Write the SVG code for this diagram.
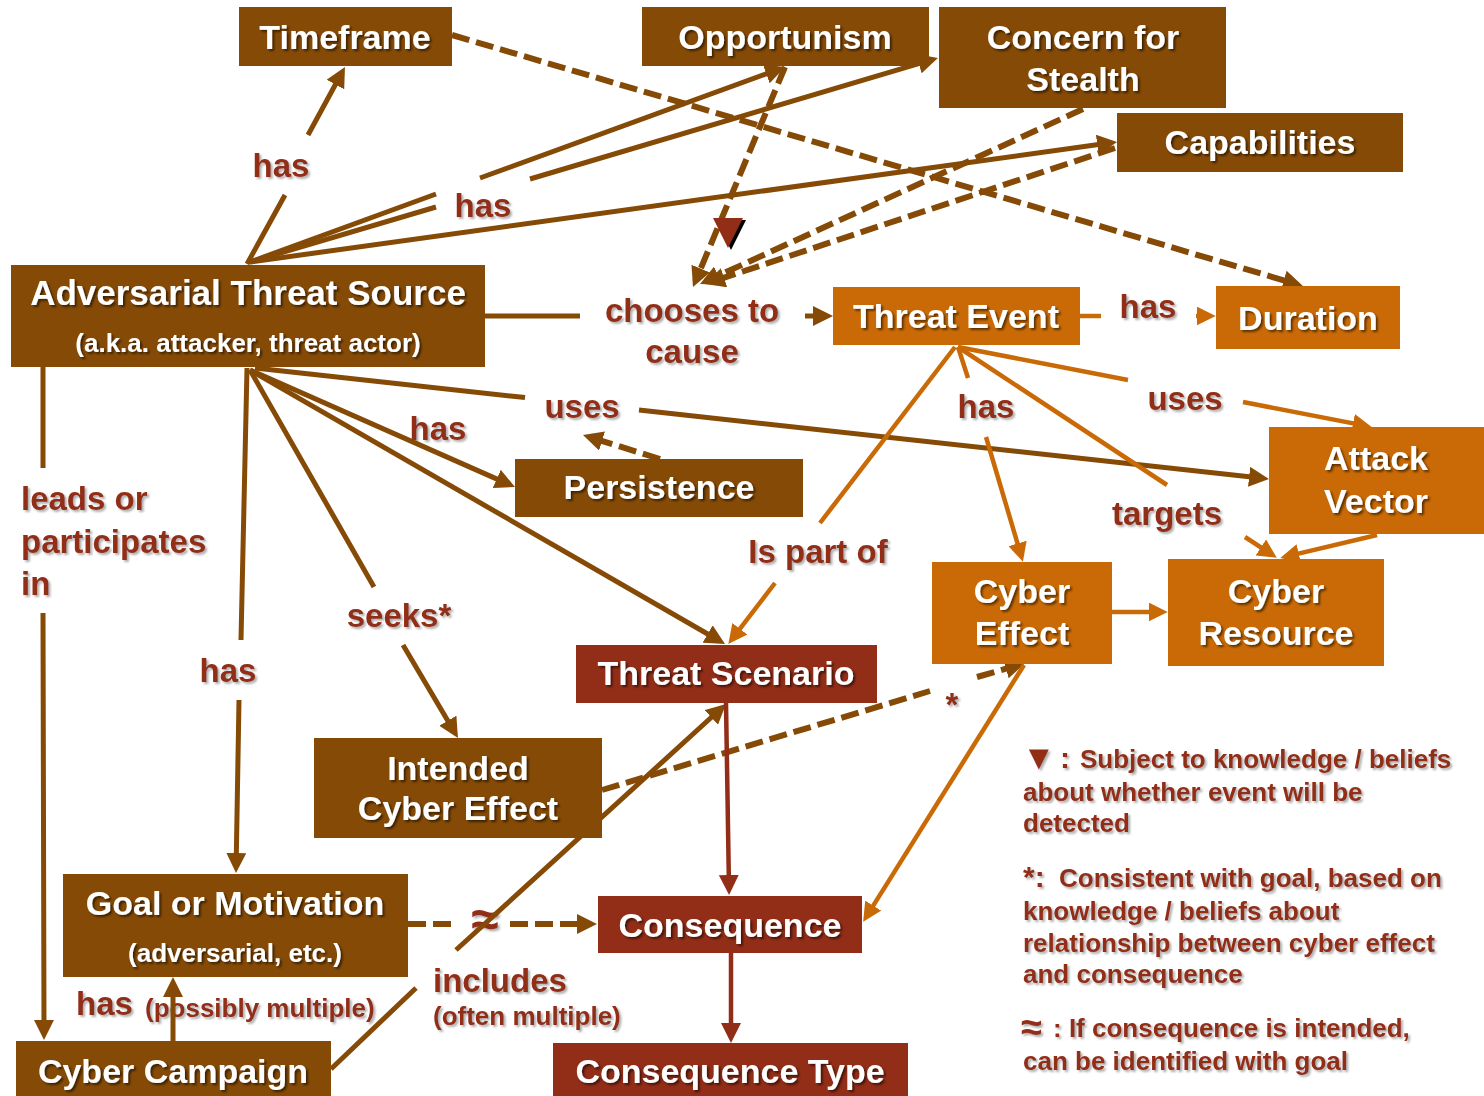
<svg xmlns="http://www.w3.org/2000/svg" width="1484" height="1096" viewBox="0 0 1484 1096">
  <defs>
    <style>
      .n-brown { fill: #854A06; }
      .n-orange { fill: #C96A06; }
      .n-red { fill: #922D17; }
      .nt { fill: #FFFFFF; font-family: "Liberation Sans", Arial, sans-serif; font-weight: bold; font-size: 34px; text-anchor: middle; }
      .nt-s { font-size: 26px; }
      .lb { fill: #922D17; font-family: "Liberation Sans", Arial, sans-serif; font-weight: bold; font-size: 33px; }
      .lb-m { text-anchor: middle; }
      .lb-s { font-size: 26px; }
      .lg { fill: #922D17; font-family: "Liberation Sans", "DejaVu Sans", Arial, sans-serif; font-weight: bold; font-size: 26px; }
      .c { fill: none; stroke-linejoin: miter; }
      .c-brown { stroke: #854A06; stroke-width: 5; }
      .c-orange { stroke: #C96A06; stroke-width: 4.5; }
      .c-red { stroke: #922D17; stroke-width: 4.5; }
      .dash { stroke-width: 6; stroke-dasharray: 18 7; }
    </style>
    <filter id="shadow-node" x="-10%" y="-30%" width="120%" height="160%">
      <feDropShadow dx="2" dy="2" stdDeviation="1" flood-color="#000000" flood-opacity="0.55"/>
    </filter>
    <filter id="shadow-label" x="-10%" y="-30%" width="120%" height="160%">
      <feDropShadow dx="2" dy="2" stdDeviation="1.2" flood-color="#777777" flood-opacity="0.6"/>
    </filter>
    <marker id="ah-brown" viewBox="0 0 20 20" refX="14" refY="10" markerWidth="20" markerHeight="20" markerUnits="userSpaceOnUse" orient="auto">
      <path d="M0,0 L20,10 L0,20 z" fill="#854A06"/>
    </marker>
    <marker id="ah-orange" viewBox="0 0 20 20" refX="14" refY="10" markerWidth="19" markerHeight="19" markerUnits="userSpaceOnUse" orient="auto">
      <path d="M0,0 L20,10 L0,20 z" fill="#C96A06"/>
    </marker>
    <marker id="ah-red" viewBox="0 0 20 20" refX="14" refY="10" markerWidth="20" markerHeight="20" markerUnits="userSpaceOnUse" orient="auto">
      <path d="M0,0 L20,10 L0,20 z" fill="#922D17"/>
    </marker>
  </defs>

  <rect x="0" y="0" width="1484" height="1096" fill="#FFFFFF"/>

  <!-- relationship labels -->
  <g id="labels" filter="url(#shadow-label)">
    <text class="lb lb-m" x="281" y="177">has</text>
    <text class="lb lb-m" x="483" y="217">has</text>
    <text class="lb lb-m" x="692" y="322">chooses to</text>
    <text class="lb lb-m" x="692" y="363">cause</text>
    <text class="lb lb-m" x="1148" y="318">has</text>
    <text class="lb lb-m" x="582" y="418">uses</text>
    <text class="lb lb-m" x="438" y="440">has</text>
    <text class="lb" x="21" y="510">leads or</text>
    <text class="lb" x="21" y="553">participates</text>
    <text class="lb" x="21" y="595">in</text>
    <text class="lb lb-m" x="399" y="627">seeks*</text>
    <text class="lb lb-m" x="228" y="682">has</text>
    <text class="lb lb-m" x="818" y="563">Is part of</text>
    <text class="lb lb-m" x="986" y="418">has</text>
    <text class="lb lb-m" x="1185" y="410">uses</text>
    <text class="lb lb-m" x="1167" y="525">targets</text>
    <text class="lb lb-m" x="952" y="716">*</text>
    <text class="lb lb-m" x="485" y="936" style="font-size:50px">≈</text>
    <text class="lb" x="76" y="1015">has <tspan class="lb-s" x="145" y="1017">(possibly multiple)</tspan></text>
    <text class="lb" x="433" y="992">includes</text>
    <text class="lb lb-s" x="433" y="1025">(often multiple)</text>
  </g>

  <!-- connectors -->
  <g id="connectors">
    <!-- Adversarial Threat Source: outgoing relations -->
    <path class="c c-brown" d="M247,264 L285,195 M308,135 L342.1,72.3" marker-end="url(#ah-brown)"/>
    <path class="c c-brown" d="M250,262 L436,194 M480,178 L779.4,69.1" marker-end="url(#ah-brown)"/>
    <path class="c c-brown" d="M250,262 L436,207 M530,179 L932.2,59.7" marker-end="url(#ah-brown)"/>
    <path class="c c-brown" d="M250,262 L1111.1,142.8" marker-end="url(#ah-brown)"/>
    <path class="c c-brown" d="M485,316 L580,316"/>
    <path class="c c-brown" d="M805,316 L827,316" marker-end="url(#ah-brown)"/>
    <path class="c c-brown" d="M255,368 L525,397.6 M639,410 L1263,478.3" marker-end="url(#ah-brown)"/>
    <path class="c c-brown" d="M250,370 L509.5,484.6" marker-end="url(#ah-brown)"/>
    <path class="c c-brown" d="M250,370 L719.8,641" marker-end="url(#ah-brown)"/>
    <path class="c c-brown" d="M250,370 L374,587 M403,645 L454.9,732.8" marker-end="url(#ah-brown)"/>
    <path class="c c-brown" d="M247,368 L241,640 M239,700 L236.1,867" marker-end="url(#ah-brown)"/>
    <path class="c c-brown" d="M43,367 L43,468 M43,613 L44,1034" marker-end="url(#ah-brown)"/>
    <!-- Cyber Campaign relations -->
    <path class="c c-brown" d="M173,1041 L173,983" marker-end="url(#ah-brown)"/>
    <path class="c c-brown" d="M331,1069 L416,988 M456,950 L721.6,708" marker-end="url(#ah-brown)"/>
    <!-- dashed influences -->
    <path class="c c-brown dash" d="M785,67 L695.3,281.5" marker-end="url(#ah-brown)"/>
    <path class="c c-brown dash" d="M1083,109 L705.5,281.5" marker-end="url(#ah-brown)"/>
    <path class="c c-brown dash" d="M1115,148 L710.7,282.1" marker-end="url(#ah-brown)"/>
    <path class="c c-brown dash" d="M452,35 L1297.2,284.3" marker-end="url(#ah-brown)"/>
    <path class="c c-brown dash" d="M660,459 L588.7,436.8" marker-end="url(#ah-brown)"/>
    <path class="c c-brown dash" d="M408,924 L458,924 M510,924 L591,924" marker-end="url(#ah-brown)"/>
    <path class="c c-brown dash" d="M602,790 L930,691 M977,677 L1019.3,664.8" marker-end="url(#ah-brown)"/>
    <!-- scenario chain -->
    <path class="c c-red" d="M726,703 L729,889" marker-end="url(#ah-red)"/>
    <path class="c c-red" d="M731,953 L731,1037" marker-end="url(#ah-red)"/>
    <!-- Threat Event relations -->
    <path class="c c-orange" d="M1080,316 L1101,316"/>
    <path class="c c-orange" d="M1196,316 L1210,316" marker-end="url(#ah-orange)"/>
    <path class="c c-orange" d="M955,347 L820,523 M775,583 L731.8,639.4" marker-end="url(#ah-orange)"/>
    <path class="c c-orange" d="M958,347 L968,378 M986,437 L1021.3,556.2" marker-end="url(#ah-orange)"/>
    <path class="c c-orange" d="M958,347 L1167,485 M1245,537 L1272,554.7" marker-end="url(#ah-orange)"/>
    <path class="c c-orange" d="M958,347 L1128,380 M1243,402 L1366.1,425.9" marker-end="url(#ah-orange)"/>
    <path class="c c-orange" d="M1377,535 L1285.8,556.6" marker-end="url(#ah-orange)"/>
    <path class="c c-orange" d="M1112,612 L1162,612" marker-end="url(#ah-orange)"/>
    <path class="c c-orange" d="M1024,665 L866.2,916.9" marker-end="url(#ah-orange)"/>
    <!-- detection-belief marker on the opportunism link -->
    <polygon points="716,220 746,220 731,250" fill="#000000"/>
    <polygon points="713,218 743,218 728,248" fill="#922D17"/>
  </g>

  <!-- nodes -->
  <g id="node-timeframe">
    <rect class="n-brown" x="239" y="7" width="213" height="59"/>
    <text class="nt" x="345" y="49" filter="url(#shadow-node)">Timeframe</text>
  </g>
  <g id="node-opportunism">
    <rect class="n-brown" x="642" y="7" width="287" height="59"/>
    <text class="nt" x="785" y="49" filter="url(#shadow-node)">Opportunism</text>
  </g>
  <g id="node-stealth">
    <rect class="n-brown" x="939" y="7" width="287" height="101"/>
    <text class="nt" x="1083" y="49" filter="url(#shadow-node)">Concern for</text>
    <text class="nt" x="1083" y="91" filter="url(#shadow-node)">Stealth</text>
  </g>
  <g id="node-capabilities">
    <rect class="n-brown" x="1117" y="113" width="286" height="59"/>
    <text class="nt" x="1260" y="154" filter="url(#shadow-node)">Capabilities</text>
  </g>
  <g id="node-threat-source">
    <rect class="n-brown" x="11" y="265" width="474" height="102"/>
    <text class="nt" x="248" y="305" style="font-size:35px" filter="url(#shadow-node)">Adversarial  Threat Source</text>
    <text class="nt nt-s" x="248" y="352" filter="url(#shadow-node)">(a.k.a. attacker, threat actor)</text>
  </g>
  <g id="node-threat-event">
    <rect class="n-orange" x="833" y="287" width="247" height="58"/>
    <text class="nt" x="956" y="328" filter="url(#shadow-node)">Threat Event</text>
  </g>
  <g id="node-duration">
    <rect class="n-orange" x="1216" y="286" width="184" height="63"/>
    <text class="nt" x="1308" y="330" filter="url(#shadow-node)">Duration</text>
  </g>
  <g id="node-persistence">
    <rect class="n-brown" x="515" y="459" width="288" height="58"/>
    <text class="nt" x="659" y="499" filter="url(#shadow-node)">Persistence</text>
  </g>
  <g id="node-attack-vector">
    <rect class="n-orange" x="1269" y="427" width="215" height="107"/>
    <text class="nt" x="1376" y="470" filter="url(#shadow-node)">Attack</text>
    <text class="nt" x="1376" y="513" filter="url(#shadow-node)">Vector</text>
  </g>
  <g id="node-cyber-effect">
    <rect class="n-orange" x="932" y="562" width="180" height="102"/>
    <text class="nt" x="1022" y="603" filter="url(#shadow-node)">Cyber</text>
    <text class="nt" x="1022" y="645" filter="url(#shadow-node)">Effect</text>
  </g>
  <g id="node-cyber-resource">
    <rect class="n-orange" x="1168" y="559" width="216" height="107"/>
    <text class="nt" x="1276" y="603" filter="url(#shadow-node)">Cyber</text>
    <text class="nt" x="1276" y="645" filter="url(#shadow-node)">Resource</text>
  </g>
  <g id="node-threat-scenario">
    <rect class="n-red" x="576" y="645" width="301" height="58"/>
    <text class="nt" x="726" y="685" filter="url(#shadow-node)">Threat Scenario</text>
  </g>
  <g id="node-intended-effect">
    <rect class="n-brown" x="314" y="738" width="288" height="100"/>
    <text class="nt" x="458" y="780" filter="url(#shadow-node)">Intended</text>
    <text class="nt" x="458" y="820" filter="url(#shadow-node)">Cyber Effect</text>
  </g>
  <g id="node-goal">
    <rect class="n-brown" x="63" y="874" width="345" height="103"/>
    <text class="nt" x="235" y="915" filter="url(#shadow-node)">Goal or Motivation</text>
    <text class="nt nt-s" x="235" y="962" filter="url(#shadow-node)">(adversarial, etc.)</text>
  </g>
  <g id="node-consequence">
    <rect class="n-red" x="598" y="896" width="264" height="57"/>
    <text class="nt" x="730" y="937" filter="url(#shadow-node)">Consequence</text>
  </g>
  <g id="node-consequence-type">
    <rect class="n-red" x="553" y="1043" width="355" height="53"/>
    <text class="nt" x="730" y="1083" filter="url(#shadow-node)">Consequence Type</text>
  </g>
  <g id="node-campaign">
    <rect class="n-brown" x="16" y="1041" width="315" height="55"/>
    <text class="nt" x="173" y="1083" filter="url(#shadow-node)">Cyber Campaign</text>
  </g>

  <!-- legend -->
  <g id="legend" filter="url(#shadow-label)">
    <text class="lg"><tspan x="1022" y="769" style="font-size:34px">▼</tspan><tspan x="1060" y="768" style="font-size:30px">:</tspan><tspan x="1080" y="768">Subject to knowledge / beliefs</tspan></text>
    <text class="lg" x="1023" y="801">about whether event will be</text>
    <text class="lg" x="1023" y="832">detected</text>
    <text class="lg"><tspan x="1023" y="887" style="font-size:30px">*:</tspan><tspan x="1059" y="887">Consistent with goal, based on</tspan></text>
    <text class="lg" x="1023" y="920">knowledge / beliefs about</text>
    <text class="lg" x="1023" y="952">relationship between cyber effect</text>
    <text class="lg" x="1023" y="983">and consequence</text>
    <text class="lg"><tspan x="1021" y="1040" style="font-size:38px">≈</tspan><tspan x="1053" y="1037">: If consequence is intended,</tspan></text>
    <text class="lg" x="1023" y="1070">can be identified with goal</text>
  </g>
</svg>
